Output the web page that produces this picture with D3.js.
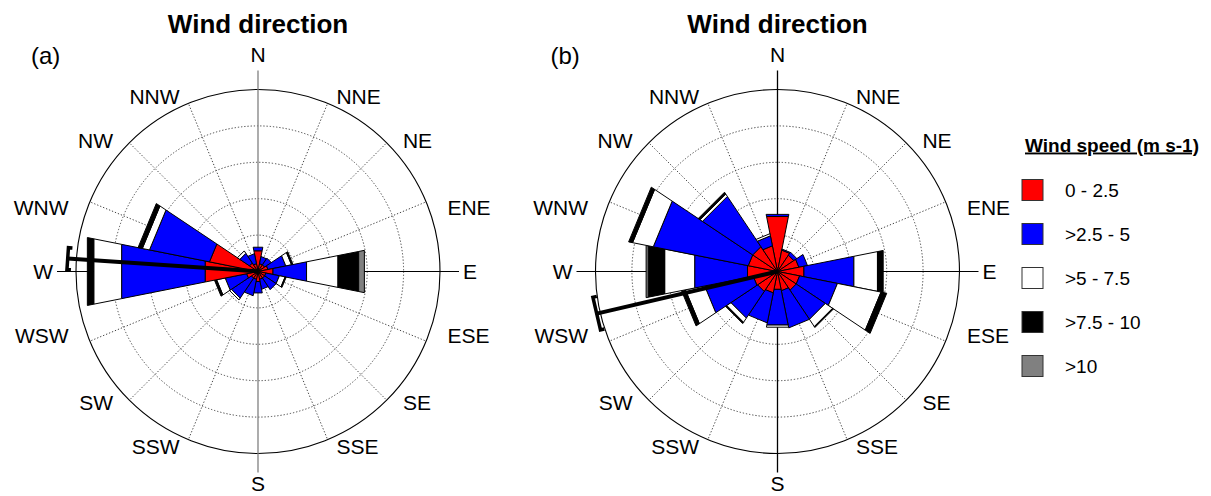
<!DOCTYPE html>
<html>
<head>
<meta charset="utf-8">
<script src="https://cdn.jsdelivr.net/npm/d3@7"></script>
<style>
  body { margin: 0; background: #fff; }
  svg { display: block; font-family: "Liberation Sans", Arial, sans-serif; }
</style>
</head>
<body>
<svg id="chart" width="1211" height="496"></svg>
<script>
// ---- data ---------------------------------------------------------------
const directions = ["N", "NNE", "NE", "ENE", "E", "ESE", "SE", "SSE",
                    "S", "SSW", "SW", "WSW", "W", "WNW", "NW", "NNW"];
const speedClasses = ["0 - 2.5", ">2.5 - 5", ">5 - 7.5", ">7.5 - 10", ">10"];
const classColors = ["#ff0000", "#0000ff", "#ffffff", "#000000", "#808080"];
const ringTicks = [5, 10, 15, 20, 25];   // frequency (%) rings

// Site (a): frequency (%) per direction for each speed class
const a_0_25   = [2.9, 1.1, 1.1, 1.4, 2.1, 1.1, 1.1, 1.1, 1.4, 1.1, 1.1, 1.6, 7.4, 6.8, 1.4, 1.1];
const a_25_5   = [0.5, 1.0, 1.1, 2.5, 4.7, 1.9, 1.9, 1.4, 1.6, 2.3, 3.3, 3.0, 11.7, 8.4, 1.6, 1.4];
const a_5_75   = [0, 0, 0, 0.8, 4.4, 0.8, 0, 0, 0, 0, 0.3, 1.2, 3.9, 1.0, 0.4, 0];
const a_75_10  = [0, 0, 0, 0.2, 2.9, 0.15, 0, 0, 0, 0, 0, 0.3, 0.9, 0.6, 0, 0];
const a_gt10   = [0, 0, 0, 0, 0.8, 0, 0, 0, 0, 0, 0, 0, 0, 0, 0, 0];

// Site (b)
const b_0_25   = [7.7, 3.0, 2.7, 3.0, 3.7, 3.1, 3.1, 2.7, 2.5, 3.0, 3.3, 3.4, 4.2, 4.1, 4.1, 3.6];
const b_25_5   = [0.3, 0.15, 0.5, 1.2, 7.0, 5.3, 4.8, 5.2, 5.0, 4.2, 4.4, 6.8, 7.4, 13.3, 8.3, 1.4];
const b_5_75   = [0, 0, 0, 0, 3.3, 6.1, 1.2, 0, 0.3, 0, 0.7, 2.7, 4.2, 2.9, 0.4, 0.3];
const b_75_10  = [0, 0, 0, 0, 0.8, 0.8, 0.15, 0, 0, 0, 0.2, 0.55, 2.3, 0.55, 0.3, 0];
const b_gt10   = [0, 0, 0, 0, 0, 0, 0, 0, 0, 0, 0, 0, 0.3, 0, 0, 0];

// Resultant wind vector (degrees from north, length in %) and its spread bar
const resultantDir  = [273.9, 256.9];
const resultantLen  = [26.2, 25.5];
const resultantSpan = [3.0, 4.6];

const panelLetters = ["(a)", "(b)"];
const titleText = "Wind direction";
const legendTitle = "Wind speed (m s-1)";

// ---- layout -------------------------------------------------------------
const svg = d3.select("#chart");
const outerR = 182;
const rScale = d3.scaleLinear().domain([0, 25]).range([0, outerR]);
const angle = d3.scaleLinear().domain([0, directions.length]).range([0, 2 * Math.PI]);
const halfW = Math.PI / directions.length;

const roses = [
  { cx: 258, cy: 271.5, series: [a_0_25, a_25_5, a_5_75, a_75_10, a_gt10], axis: "#808080" },
  { cx: 777.5, cy: 271.5, series: [b_0_25, b_25_5, b_5_75, b_75_10, b_gt10], axis: "#000" }
];

function polar(a, r) { return [r * Math.sin(a), -r * Math.cos(a)]; }

function wedge(a, r0, r1) {
  const p = d3.path();
  const s0 = polar(a - halfW, r0), s1 = polar(a - halfW, r1);
  const e1 = polar(a + halfW, r1), e0 = polar(a + halfW, r0);
  p.moveTo(s0[0], s0[1]);
  p.lineTo(s1[0], s1[1]);
  p.lineTo(e1[0], e1[1]);
  p.lineTo(e0[0], e0[1]);
  p.closePath();
  return p.toString();
}

roses.forEach((rose, k) => {
  const g = svg.append("g").attr("transform", `translate(${rose.cx},${rose.cy})`);

  // title and panel letter
  svg.append("text").attr("x", rose.cx).attr("y", 33)
    .attr("text-anchor", "middle").attr("font-size", 26).attr("font-weight", "bold")
    .text(titleText);
  svg.append("text").attr("x", rose.cx - 227).attr("y", 63.5)
    .attr("font-size", 24).text(panelLetters[k]);

  // dotted rings
  g.selectAll("circle.ring").data(ringTicks.slice(0, -1)).join("circle")
    .attr("r", d => rScale(d)).attr("fill", "none")
    .attr("stroke", "#444").attr("stroke-width", 1).attr("stroke-dasharray", "1.3,1.9");
  // dotted spokes (non-cardinal)
  directions.forEach((d, i) => {
    if (i % 4 === 0) return;
    const e = polar(angle(i), outerR);
    g.append("line").attr("x1", 0).attr("y1", 0).attr("x2", e[0]).attr("y2", e[1])
      .attr("stroke", "#444").attr("stroke-width", 1).attr("stroke-dasharray", "1.3,1.9");
  });
  // outer circle
  g.append("circle").attr("r", outerR).attr("fill", "none").attr("stroke", "#000").attr("stroke-width", 1.1);
  // cardinal axes extending past the circle
  g.append("line").attr("x1", 0).attr("x2", 0).attr("y1", -201).attr("y2", 201)
    .attr("stroke", rose.axis).attr("stroke-width", 1.3);
  g.append("line").attr("y1", 0).attr("y2", 0).attr("x1", -201).attr("x2", 201)
    .attr("stroke", "#000").attr("stroke-width", 1);

  // stacked wedges
  const stackedSegs = [];
  directions.forEach((d, i) => {
    let acc = 0;
    rose.series.forEach((vals, c) => {
      const v = vals[i];
      if (v > 0) stackedSegs.push({ i, c, r0: acc, r1: acc + v });
      acc += v;
    });
  });
  g.selectAll("path.seg").data(stackedSegs).join("path")
    .attr("d", s => wedge(angle(s.i), rScale(s.r0), rScale(s.r1)))
    .attr("fill", s => classColors[s.c])
    .attr("stroke", "#000").attr("stroke-width", 1).attr("stroke-linejoin", "miter");

  // resultant vector with spread bar
  const va = resultantDir[k] * Math.PI / 180;
  const vr = rScale(resultantLen[k]);
  const tip = polar(va, vr);
  g.append("line").attr("x1", 0).attr("y1", 0).attr("x2", tip[0]).attr("y2", tip[1])
    .attr("stroke", "#000").attr("stroke-width", 4);
  const span = rScale(resultantSpan[k]) / 2;
  const ux = Math.cos(va), uy = Math.sin(va);        // perpendicular to the vector
  const inx = -Math.sin(va), iny = Math.cos(va);      // pointing back to centre
  const hook = 4;
  const capPath = d3.path();
  capPath.moveTo(tip[0] + ux * span + inx * hook, tip[1] + uy * span + iny * hook);
  capPath.lineTo(tip[0] + ux * span, tip[1] + uy * span);
  capPath.lineTo(tip[0] - ux * span, tip[1] - uy * span);
  capPath.lineTo(tip[0] - ux * span + inx * hook, tip[1] - uy * span + iny * hook);
  g.append("path").attr("d", capPath.toString()).attr("fill", "none")
    .attr("stroke", "#000").attr("stroke-width", 3.5).attr("stroke-linejoin", "miter");

  // direction labels
  const R = 205;
  directions.forEach((d, i) => {
    const a = angle(i);
    const s = Math.sin(a), c = Math.cos(a);
    let x = R * s, y, anchor;
    if (i === 0) { anchor = "middle"; y = -217; }
    else if (i === 8) { anchor = "middle"; y = 212; }
    else {
      anchor = s > 0.01 ? "start" : "end";
      y = (i === 4 || i === 12) ? 0 : -R * c + 14 * Math.sign(c);
    }
    g.append("text").attr("x", x).attr("y", y + 7.5)
      .attr("text-anchor", anchor).attr("font-size", 21).text(d);
  });
});

// ---- legend -------------------------------------------------------------
const legend = svg.append("g");
legend.append("text").attr("x", 1025).attr("y", 151.5)
  .attr("font-size", 19).attr("font-weight", "bold").attr("text-decoration", "underline")
  .text(legendTitle);
const lg = legend.selectAll("g.item").data(speedClasses).join("g")
  .attr("transform", (d, i) => `translate(1022,${179.5 + i * 44})`);
lg.append("rect").attr("width", 21).attr("height", 21)
  .attr("fill", (d, i) => classColors[i]).attr("stroke", "#333").attr("stroke-width", 1);
lg.append("text").attr("x", 43).attr("y", 17.5).attr("font-size", 19).text(d => d);
</script>
</body>
</html>
